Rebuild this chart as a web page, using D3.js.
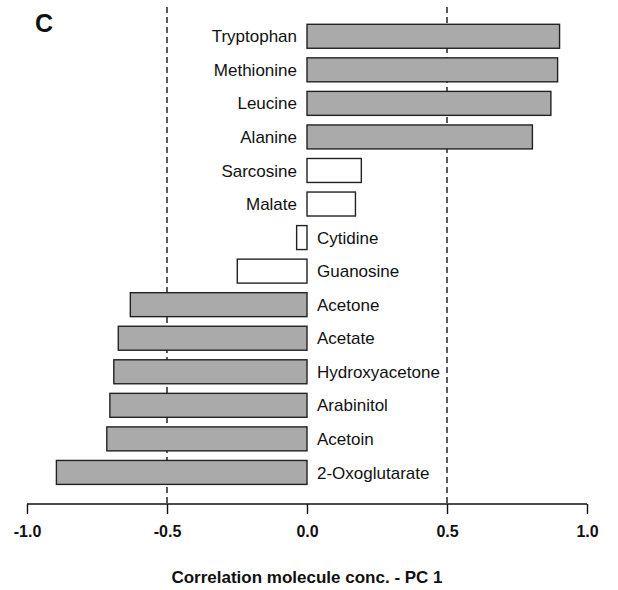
<!DOCTYPE html>
<html>
<head>
<meta charset="utf-8">
<script src="https://cdn.jsdelivr.net/npm/d3@7"></script>
<style>
  html, body { margin: 0; padding: 0; background: #fff; }
  svg { display: block; font-family: "Liberation Sans", Arial, sans-serif; }
</style>
</head>
<body>
<div id="chart"></div>
<script>
const categories = ["Tryptophan","Methionine","Leucine","Alanine","Sarcosine","Malate","Cytidine","Guanosine","Acetone","Acetate","Hydroxyacetone","Arabinitol","Acetoin","2-Oxoglutarate"];
const values = [0.902, 0.895, 0.871, 0.805, 0.194, 0.173, -0.037, -0.249, -0.631, -0.674, -0.690, -0.704, -0.715, -0.895];
const significant = [true, true, true, true, false, false, false, false, true, true, true, true, true, true];
const tickValues = [-1.0, -0.5, 0.0, 0.5, 1.0];
const thresholds = [-0.5, 0.5];
const panelLabel = "C";
const axisTitle = "Correlation molecule conc. - PC 1";

const W = 618, H = 590;
const svg = d3.select("#chart").append("svg").attr("width", W).attr("height", H);

const x = d3.scaleLinear().domain([-1, 1]).range([27, 587]);
const y = d3.scaleBand().domain(categories).range([19.5, 489.2])
  .paddingInner(0.4/1.4).paddingOuter(0.2/1.4);
const axisY = 504;

// dashed threshold lines
svg.selectAll("line.thr").data(thresholds).enter().append("line")
  .attr("class", "thr")
  .attr("x1", d => x(d)).attr("x2", d => x(d))
  .attr("y1", 7).attr("y2", axisY)
  .attr("stroke", "#333").attr("stroke-width", 1.6)
  .attr("stroke-dasharray", "6,4");

// bars
const data = categories.map((c, i) => ({ c, v: values[i], s: significant[i] }));
svg.selectAll("rect.bar").data(data).enter().append("rect")
  .attr("class", "bar")
  .attr("x", d => x(Math.min(0, d.v)))
  .attr("width", d => Math.abs(x(d.v) - x(0)))
  .attr("y", d => y(d.c))
  .attr("height", y.bandwidth())
  .attr("fill", d => d.s ? "#aaaaaa" : "#ffffff")
  .attr("stroke", "#222").attr("stroke-width", 1.4);

// labels
svg.selectAll("text.lab").data(data).enter().append("text")
  .attr("class", "lab")
  .attr("x", d => d.v >= 0 ? x(0) - 10 : x(0) + 10)
  .attr("y", d => y(d.c) + y.bandwidth() / 2)
  .attr("dy", "0.36em")
  .attr("text-anchor", d => d.v >= 0 ? "end" : "start")
  .attr("font-size", 17)
  .attr("fill", "#111")
  .text(d => d.c);

// x axis
const axis = d3.axisBottom(x).tickValues(tickValues).tickSize(10).tickPadding(12)
  .tickFormat(d3.format(".1f"));
const gx = svg.append("g").attr("transform", `translate(0,${axisY})`).call(axis);
gx.select(".domain").attr("d", `M${x(-1)},0H${x(1)}`).attr("stroke", "#111").attr("stroke-width", 1.4);
gx.selectAll(".tick line").attr("stroke", "#111").attr("stroke-width", 1.4);
gx.selectAll(".tick text").attr("font-size", 16).attr("font-weight", "bold")
  .attr("fill", "#111").attr("font-family", "'Liberation Sans', Arial, sans-serif")
  .text(d => d3.format(".1f")(d).replace("−", "-"));

// axis title
svg.append("text").attr("x", x(0)).attr("y", 583)
  .attr("text-anchor", "middle").attr("font-size", 17).attr("font-weight", "bold")
  .attr("fill", "#111").text(axisTitle);

// panel label
svg.append("text").attr("x", 35).attr("y", 32)
  .attr("font-size", 25).attr("font-weight", "bold").attr("fill", "#111")
  .text(panelLabel);
</script>
</body>
</html>
